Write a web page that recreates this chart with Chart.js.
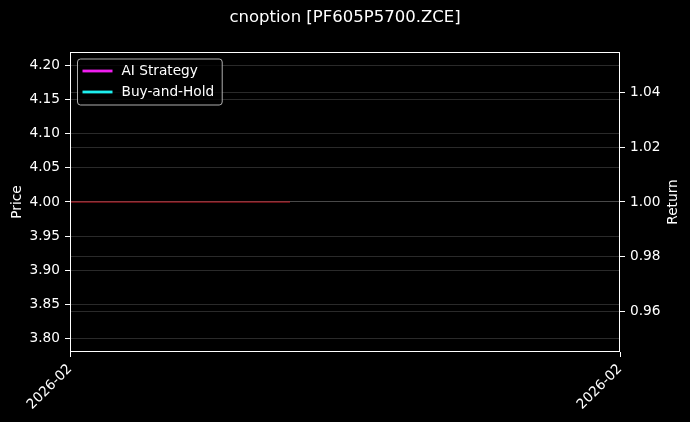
<!DOCTYPE html>
<html>
<head>
<meta charset="utf-8">
<script src="https://cdn.jsdelivr.net/npm/chart.js"></script>
<style>
  html, body { margin: 0; padding: 0; background: #000; }
  canvas { display: block; }
</style>
</head>
<body>
<canvas id="chart" width="690" height="422"></canvas>
<script>
const chartTitle = "cnoption [PF605P5700.ZCE]";

// x axis: one month shown, labels only at both ends
const xTickPositions = [0, 1];
const xTickLabels = ["2026-02", "2026-02"];

// price series (left axis)
const priceX = [0, 0.4];
const priceValues = [4.0, 4.0];

// return series (right axis), single point each so no line shows
const returnX = [0];
const strategyReturn = [1.0];
const holdReturn = [1.0];

const priceTicks = [3.80, 3.85, 3.90, 3.95, 4.00, 4.05, 4.10, 4.15, 4.20];
const returnTicks = [0.96, 0.98, 1.00, 1.02, 1.04];
const priceRange = [3.78, 4.22];
const returnRange = [0.945, 1.055];

const FONT = "DejaVu Sans";
const FS = 13.7;
const GRID = "rgba(176,176,176,0.3)";

const toPoints = (xs, ys) => xs.map((x, i) => ({ x: x, y: ys[i] }));

const blackBg = {
  id: "blackBg",
  beforeDraw(chart) {
    const c = chart.ctx;
    c.save();
    c.fillStyle = "#000";
    c.fillRect(0, 0, chart.width, chart.height);
    c.restore();
  }
};

// frame, axis titles (both read bottom-to-top) and legend box in the top-left corner
const frameAndLegend = {
  id: "frameAndLegend",
  afterDatasetsDraw(chart) {
    const c = chart.ctx;
    const a = chart.chartArea;
    c.save();
    c.strokeStyle = "#fff";
    c.lineWidth = 1;
    c.strokeRect(Math.round(a.left) + 0.5, Math.round(a.top) + 0.5,
      Math.round(a.right - a.left) - 1, Math.round(a.bottom - a.top) - 1);

    c.font = FS + "px '" + FONT + "'";
    c.fillStyle = "#fff";
    c.textAlign = "center";
    c.textBaseline = "middle";
    const midY = (a.top + a.bottom) / 2;
    [["Price", 17], ["Return", chart.width - 17]].forEach(([t, x]) => {
      c.save();
      c.translate(x, midY);
      c.rotate(-Math.PI / 2);
      c.fillText(t, 0, 0);
      c.restore();
    });

    const items = chart.data.datasets.filter(d => d.inLegend);
    const textW = Math.max(...items.map(d => c.measureText(d.label).width));
    const bx = a.left + 7.5, by = a.top + 7;
    const bw = 44 + textW + 8, bh = 46;
    const r = 3;
    c.beginPath();
    c.moveTo(bx + r, by);
    c.arcTo(bx + bw, by, bx + bw, by + bh, r);
    c.arcTo(bx + bw, by + bh, bx, by + bh, r);
    c.arcTo(bx, by + bh, bx, by, r);
    c.arcTo(bx, by, bx + bw, by, r);
    c.closePath();
    c.fillStyle = "rgba(0,0,0,0.8)";
    c.fill();
    c.strokeStyle = "rgba(204,204,204,0.85)";
    c.lineWidth = 1;
    c.stroke();

    items.forEach((d, i) => {
      const y = by + 12 + i * 21;
      c.strokeStyle = d.borderColor;
      c.lineWidth = 2.8;
      c.beginPath();
      c.moveTo(bx + 5, y);
      c.lineTo(bx + 35, y);
      c.stroke();
      c.fillStyle = "#fff";
      c.textAlign = "left";
      c.textBaseline = "middle";
      c.fillText(d.label, bx + 44, y);
    });
    c.restore();
  }
};

const yGrid = {
  color: GRID,
  lineWidth: 0.8,
  borderDash: [3, 1.3],
  tickLength: 5,
  tickColor: "#fff",
  tickWidth: 1,
  tickBorderDash: []
};

new Chart(document.getElementById("chart"), {
  type: "line",
  data: {
    datasets: [
      {
        label: "Price",
        data: toPoints(priceX, priceValues),
        yAxisID: "y",
        borderColor: "rgba(235,30,45,0.85)",
        borderWidth: 1.2,
        pointRadius: 0,
        tension: 0
      },
      {
        label: "AI Strategy",
        inLegend: true,
        data: toPoints(returnX, strategyReturn),
        yAxisID: "y1",
        borderColor: "#f01ef0",
        borderWidth: 2,
        pointRadius: 0
      },
      {
        label: "Buy-and-Hold",
        inLegend: true,
        data: toPoints(returnX, holdReturn),
        yAxisID: "y1",
        borderColor: "#1ef0f0",
        borderWidth: 2,
        pointRadius: 0
      }
    ]
  },
  options: {
    responsive: false,
    animation: false,
    layout: { padding: 0 },
    plugins: {
      legend: { display: false },
      tooltip: { enabled: false },
      title: {
        display: true,
        text: chartTitle,
        color: "#fff",
        font: { family: FONT, size: 16.5, weight: "normal" },
        padding: { top: 8, bottom: 24.2 }
      }
    },
    scales: {
      x: {
        type: "linear",
        min: 0,
        max: 1,
        afterBuildTicks: s => { s.ticks = xTickPositions.map(v => ({ value: v })); },
        afterFit: s => { s.height = 70; },
        ticks: {
          color: "#fff",
          font: { family: FONT, size: FS },
          maxRotation: 45,
          minRotation: 45,
          padding: 4,
          callback: (v, i) => xTickLabels[i]
        },
        grid: { drawOnChartArea: false, tickLength: 5, tickColor: "#fff", color: "#fff" },
        border: { display: false }
      },
      y: {
        position: "left",
        min: priceRange[0],
        max: priceRange[1],
        afterBuildTicks: s => { s.ticks = priceTicks.map(v => ({ value: v })); },
        afterFit: s => { s.width = 70; },
        ticks: {
          color: "#fff",
          font: { family: FONT, size: FS },
          padding: 5,
          callback: v => v.toFixed(2)
        },
        grid: yGrid,
        border: { display: false }
      },
      y1: {
        position: "right",
        min: returnRange[0],
        max: returnRange[1],
        afterBuildTicks: s => { s.ticks = returnTicks.map(v => ({ value: v })); },
        afterFit: s => { s.width = 70; },
        ticks: {
          color: "#fff",
          font: { family: FONT, size: FS },
          padding: 5,
          callback: v => v.toFixed(2)
        },
        grid: yGrid,
        border: { display: false }
      }
    }
  },
  plugins: [blackBg, frameAndLegend]
});
</script>
</body>
</html>
